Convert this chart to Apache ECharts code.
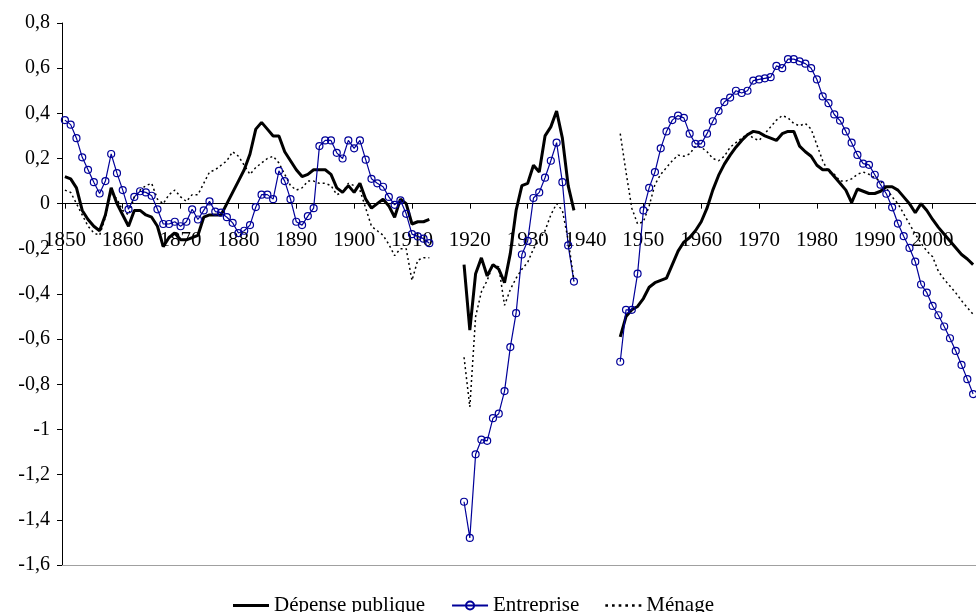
<!DOCTYPE html>
<html>
<head>
<meta charset="utf-8">
<script src="https://cdn.jsdelivr.net/npm/echarts@6/dist/echarts.min.js"></script>
<style>
  html, body { margin: 0; padding: 0; background: #fff; }
  #chart { width: 976px; height: 612px; }
</style>
</head>
<body>
<div id="chart"></div>
<script>
// années 1850 - 2007 (catégories)
const years = [];
for (let y = 1850; y <= 2007; y += 1) years.push(String(y));

// Dépense publique
const depense1850 = [
  0.12, 0.11, 0.07, -0.03, -0.07, -0.10, -0.12, -0.05, 0.07, 0.00,
  -0.05, -0.10, -0.03, -0.03, -0.05, -0.06, -0.10, -0.19, -0.15, -0.13,
  -0.16, -0.16, -0.15, -0.14, -0.06, -0.05, -0.05, -0.05, 0.00, 0.05,
  0.10, 0.15, 0.22, 0.33, 0.36, 0.33, 0.30, 0.30, 0.23, 0.19,
  0.15, 0.12, 0.13, 0.15, 0.15, 0.15, 0.13, 0.07, 0.05, 0.08,
  0.05, 0.09, 0.02, -0.02, 0.00, 0.02, -0.01, -0.06, 0.02, 0.00,
  -0.09, -0.08, -0.08, -0.07,
];
const depense1919 = [
  -0.27, -0.56, -0.31, -0.24, -0.32, -0.27, -0.29, -0.35, -0.22, -0.03,
  0.08, 0.09, 0.17, 0.14, 0.30, 0.34, 0.41, 0.29, 0.08, -0.03,
];
const depense1946 = [
  -0.59, -0.50, -0.47, -0.455,
  -0.42, -0.37, -0.35, -0.34, -0.33, -0.27, -0.21, -0.17, -0.15, -0.12,
  -0.08, -0.02, 0.06, 0.125, 0.175, 0.215, 0.25, 0.28, 0.305, 0.32,
  0.315, 0.30, 0.29, 0.28, 0.31, 0.32, 0.32, 0.255, 0.23, 0.21,
  0.17, 0.15, 0.15, 0.12, 0.09, 0.06, 0.005, 0.065, 0.055, 0.045,
  0.045, 0.055, 0.075, 0.075, 0.06, 0.03, 0.0, -0.04, 0.0, -0.03,
  -0.07, -0.105, -0.135, -0.165, -0.195, -0.225, -0.245, -0.27,
];

// Entreprise
const entreprise1850 = [
  0.37, 0.35, 0.29, 0.205, 0.15, 0.095, 0.045, 0.10, 0.22, 0.135,
  0.06, -0.025, 0.03, 0.055, 0.05, 0.035, -0.025, -0.09, -0.09, -0.08,
  -0.10, -0.08, -0.025, -0.07, -0.03, 0.01, -0.035, -0.04, -0.06, -0.085,
  -0.13, -0.12, -0.095, -0.015, 0.04, 0.04, 0.02, 0.145, 0.10, 0.02,
  -0.08, -0.095, -0.055, -0.02, 0.255, 0.28, 0.28, 0.225, 0.20, 0.28,
  0.245, 0.28, 0.195, 0.11, 0.09, 0.075, 0.03, -0.005, 0.015, -0.045,
  -0.135, -0.145, -0.155, -0.175,
];
const entreprise1919 = [
  -1.32, -1.48, -1.11, -1.045, -1.05, -0.95, -0.93, -0.83, -0.635, -0.485,
  -0.225, -0.165, 0.025, 0.05, 0.115, 0.19, 0.27, 0.095, -0.185, -0.345,
];
const entreprise1946 = [
  -0.70, -0.47, -0.47, -0.31,
  -0.03, 0.07, 0.14, 0.245, 0.32, 0.37, 0.39, 0.38, 0.31, 0.265,
  0.265, 0.31, 0.365, 0.41, 0.45, 0.47, 0.50, 0.49, 0.50, 0.545,
  0.55, 0.555, 0.56, 0.61, 0.60, 0.64, 0.64, 0.63, 0.62, 0.60,
  0.55, 0.475, 0.445, 0.395, 0.368, 0.32, 0.27, 0.216, 0.177, 0.172,
  0.128, 0.084, 0.044, -0.016, -0.088, -0.144, -0.196, -0.257, -0.358, -0.394,
  -0.453, -0.494, -0.544, -0.596, -0.652, -0.714, -0.777, -0.843,
];

// Ménage
const menage1850 = [
  0.06, 0.05, 0.00, -0.05, -0.10, -0.13, -0.14, -0.06, 0.05, 0.02,
  -0.03, -0.05, 0.03, 0.06, 0.08, 0.09, 0.02, 0.00, 0.04, 0.06,
  0.03, 0.01, 0.04, 0.04, 0.09, 0.14, 0.15, 0.17, 0.19, 0.23,
  0.21, 0.17, 0.13, 0.16, 0.18, 0.20, 0.21, 0.18, 0.13, 0.08,
  0.06, 0.07, 0.10, 0.10, 0.09, 0.09, 0.08, 0.04, 0.05, 0.09,
  0.08, 0.06, -0.02, -0.10, -0.12, -0.14, -0.18, -0.23, -0.20, -0.20,
  -0.34, -0.25, -0.24, -0.24,
];
const menage1919 = [
  -0.68, -0.90, -0.50, -0.39, -0.34, -0.27, -0.28, -0.45, -0.38, -0.33,
  -0.29, -0.26, -0.20, -0.16, -0.12, -0.05, 0.00, -0.03, -0.16, -0.34,
];
const menage1946 = [
  0.31, 0.14, -0.02, -0.09,
  -0.08, -0.01, 0.085, 0.13, 0.16, 0.19, 0.215, 0.21, 0.22, 0.255,
  0.25, 0.23, 0.20, 0.19, 0.21, 0.25, 0.27, 0.29, 0.31, 0.29,
  0.28, 0.31, 0.34, 0.37, 0.39, 0.38, 0.355, 0.345, 0.355, 0.33,
  0.26, 0.19, 0.14, 0.13, 0.10, 0.10, 0.11, 0.13, 0.14, 0.13,
  0.115, 0.10, 0.07, 0.03, 0.0, -0.045, -0.09, -0.135, -0.175, -0.21,
  -0.235, -0.30, -0.335, -0.365, -0.395, -0.43, -0.46, -0.49,
];

// trous : 1914-1918 et 1939-1945
const gapWar1 = new Array(5).fill(null);
const gapWar2 = new Array(7).fill(null);
const joinPeriods = (a, b, c) => a.concat(gapWar1, b, gapWar2, c);

const depense = joinPeriods(depense1850, depense1919, depense1946);
const entreprise = joinPeriods(entreprise1850, entreprise1919, entreprise1946);
const menage = joinPeriods(menage1850, menage1919, menage1946);

const Y_MIN = -1.6;
const Y_MAX = 0.8;

const FONT = 'Liberation Serif';
const everyTen = (idx, val) => Number(val) % 10 === 0;

// grille
const GRID_TOP = 23;
const GRID_BOTTOM = 47;
const plotHeight = 612 - GRID_TOP - GRID_BOTTOM;
// on remonte l'axe des x jusqu'au zéro (onZero ne déplace pas les libellés ici)
const zeroOffset = -plotHeight * (0 - Y_MIN) / (Y_MAX - Y_MIN);

// icônes de légende (trait épais / pointillé)
const iconThick = 'path://M0,0H38V3H0Z';
const iconDots = 'path://M0,0h2v2h-2z M5,0h2v2h-2z M10,0h2v2h-2z M15,0h2v2h-2z M20,0h2v2h-2z M25,0h2v2h-2z';

const option = {
  animation: false,
  backgroundColor: '#fff',
  textStyle: { fontFamily: FONT, color: '#000' },
  grid: { left: 62, right: -7, top: GRID_TOP, bottom: GRID_BOTTOM },
  legend: {
    left: 228,
    top: 590,
    itemWidth: 36,
    itemHeight: 10,
    itemGap: 26,
    textStyle: { fontFamily: FONT, fontSize: 21, color: '#000' },
    data: [
      { name: 'Dépense publique', icon: iconThick },
      { name: 'Entreprise' },
      { name: 'Ménage', icon: iconDots },
    ],
  },
  xAxis: [
    {
      type: 'category',
      data: years,
      boundaryGap: true,
      position: 'bottom',
      offset: zeroOffset,
      axisLine: { onZero: false, lineStyle: { color: '#000', width: 1 } },
      axisTick: { show: true, alignWithLabel: true, interval: everyTen, length: 5, lineStyle: { color: '#000' } },
      axisLabel: { interval: everyTen, margin: 26, fontFamily: FONT, fontSize: 21, color: '#000' },
      splitLine: { show: false },
    },
    {
      // bordure basse du tracé
      type: 'category',
      data: years,
      position: 'bottom',
      offset: 0,
      axisLine: { onZero: false, lineStyle: { color: '#a0a0a0', width: 1 } },
      axisTick: { show: false },
      axisLabel: { show: false },
      splitLine: { show: false },
    },
  ],
  yAxis: {
    type: 'value',
    min: Y_MIN,
    max: Y_MAX,
    interval: 0.2,
    axisLine: { show: true, onZero: false, lineStyle: { color: '#000' } },
    axisTick: { show: true, length: 5, lineStyle: { color: '#000' } },
    splitLine: { show: false },
    axisLabel: {
      margin: 12,
      fontFamily: FONT,
      fontSize: 20,
      color: '#000',
      formatter: v => String(Number(v.toFixed(1))).replace('.', ','),
    },
  },
  series: [
    {
      name: 'Dépense publique',
      type: 'line',
      data: depense,
      symbol: 'none',
      color: '#000',
      lineStyle: { color: '#000', width: 3 },
    },
    {
      name: 'Entreprise',
      type: 'line',
      data: entreprise,
      symbol: 'circle',
      symbolSize: 7,
      showAllSymbol: true,
      color: '#000099',
      lineStyle: { color: '#000099', width: 1.2 },
      itemStyle: { color: 'rgba(255,255,255,0)', borderColor: '#000099', borderWidth: 1.2 },
    },
    {
      name: 'Ménage',
      type: 'line',
      data: menage,
      symbol: 'none',
      color: '#000',
      lineStyle: { color: '#000', width: 1.5, type: [2, 3] },
    },
  ],
};

const chart = echarts.init(document.getElementById('chart'));
chart.setOption(option);
</script>
</body>
</html>
